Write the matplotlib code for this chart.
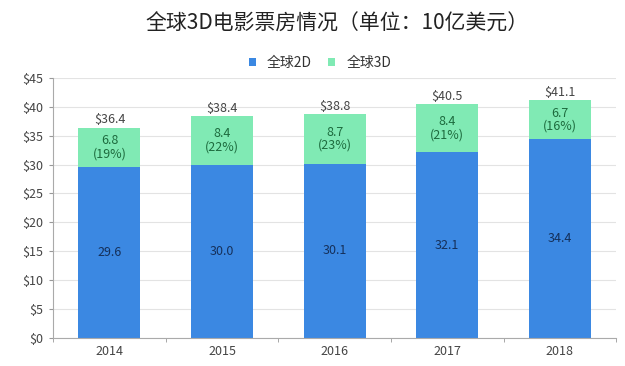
import matplotlib
matplotlib.use('Agg')
import matplotlib.pyplot as plt
import numpy as np

plt.rcParams['font.family'] = ['Noto Sans CJK SC', 'DejaVu Sans']

years = ['2014', '2015', '2016', '2017', '2018']
vals_2d = [29.6, 30.0, 30.1, 32.1, 34.4]
vals_3d = [6.8, 8.4, 8.7, 8.4, 6.7]
shares = ['19%', '22%', '23%', '21%', '16%']
totals = [36.4, 38.4, 38.8, 40.5, 41.1]

c2d = '#3b88e2'
c3d = '#80eab4'

fig = plt.figure(figsize=(6.25, 3.66), dpi=100)
ax = fig.add_axes([0.085, 0.077, 0.901, 0.71])

x = np.arange(len(years))
ax.bar(x, vals_2d, width=0.55, color=c2d, label='全球2D', zorder=2)
ax.bar(x, vals_3d, width=0.55, bottom=vals_2d, color=c3d, label='全球3D', zorder=2)

for i in range(len(years)):
    ax.text(x[i], vals_2d[i] / 2, '%.1f' % vals_2d[i], ha='center', va='center',
            fontsize=9, color='#15305a')
    ax.text(x[i], vals_2d[i] + vals_3d[i] / 2, '%.1f\n(%s)' % (vals_3d[i], shares[i]),
            ha='center', va='center', fontsize=9, color='#1d6b3e', linespacing=1.0)
    ax.text(x[i], totals[i] + 0.2, '$%.1f' % totals[i], ha='center', va='bottom',
            fontsize=9, color='#444444')

ax.set_xlim(-0.5, len(years) - 0.5)
ax.set_ylim(0, 45)
ax.set_yticks(np.arange(0, 46, 5))
ax.set_yticklabels(['$%d' % v for v in range(0, 46, 5)])
ax.set_xticks(x)
ax.set_xticklabels(years)
ax.set_xticks(np.arange(-0.5, len(years), 1), minor=True)
ax.tick_params(axis='x', which='major', length=0, labelsize=9, colors='#444444', pad=5)
ax.tick_params(axis='x', which='minor', length=3, color='#999999')
ax.tick_params(axis='y', length=3, labelsize=9, colors='#444444', pad=4)
ax.tick_params(axis='y', color='#999999')

ax.grid(axis='y', color='#e3e3e3', linewidth=0.8, zorder=0)
for s in ['top', 'right']:
    ax.spines[s].set_visible(False)
ax.spines['left'].set_color('#aaaaaa')
ax.spines['bottom'].set_color('#aaaaaa')

fig.text(0.539, 0.934, '全球3D电影票房情况（单位：10亿美元）', ha='center', va='center',
         fontsize=15, color='#222222')
leg = fig.legend(loc='center', bbox_to_anchor=(0.512, 0.828), ncol=2, frameon=False,
                 fontsize=10, handlelength=0.5, handleheight=0.5, columnspacing=1.2,
                 handletextpad=0.8)
for t in leg.get_texts():
    t.set_color('#333333')

fig.savefig('out.png', dpi=100)
